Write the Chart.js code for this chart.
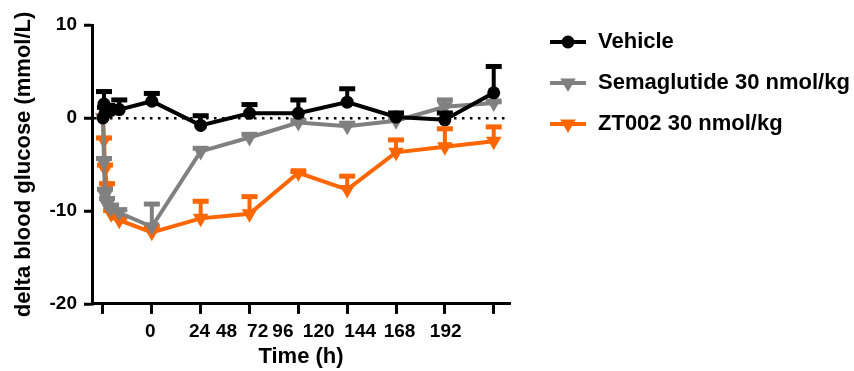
<!DOCTYPE html>
<html>
<head>
<meta charset="utf-8">
<script src="https://cdn.jsdelivr.net/npm/chart.js@4/dist/chart.umd.min.js"></script>
<style>
  html, body { margin: 0; padding: 0; background: #fff; }
  #wrap { width: 854px; height: 371px; }
</style>
</head>
<body>
<div id="wrap"><canvas id="glucoseChart"></canvas></div>
<script>
// sampling times (h)
const timeHours = [0, 0.5, 1, 2, 4, 8, 24, 48, 72, 96, 120, 144, 168, 192];

// delta blood glucose, mean and SEM (mmol/L)
const vehicleMean = [0, 1.5, 0.5, 1.0, 0.8, 0.9, 1.8, -0.8, 0.5, 0.5, 1.7, 0.1, -0.2, 2.7];
const vehicleSem  = [0, 1.5, 0.8, 0.5, 0.6, 1.2, 1.0, 1.2, 1.1, 1.6, 1.6, 0.6, 0.9, 3.0];
const semaMean    = [0, -4.8, -8.3, -9.3, -9.8, -10.2, -11.7, -3.6, -2.1, -0.5, -0.9, -0.3, 1.2, 1.6];
const semaSem     = [0, 0.6, 0.8, 0.8, 0.6, 0.5, 2.6, 0.5, 0.5, 0.4, 0.5, 0.4, 0.9, 0.3];
const ztMean      = [0, -2.4, -5.5, -7.5, -10.3, -11.0, -12.3, -10.8, -10.3, -5.9, -7.7, -3.7, -3.1, -2.5];
const ztSem       = [0, 0.4, 0.6, 0.6, 0.5, 0.4, 0.8, 2.0, 2.0, 0.3, 1.6, 1.5, 2.1, 1.7];

// axis ticks
const xTickMarks = [0, 24, 48, 72, 96, 120, 144, 168, 192];
const xTickLabels = ['0', '24', '48', '72', '96', '120', '144', '168', '192'];
const xLabelAt = [23.2, 47.4, 60.7, 76, 88.4, 106, 126.4, 145.7, 168.4];
const yTicks = [-20, -10, 0, 10];

const FONT = "'Liberation Sans', Arial, sans-serif";
Chart.defaults.font.family = FONT;
Chart.defaults.font.weight = 'bold';
Chart.defaults.color = '#000';

const series = [
    { label: 'Vehicle', mean: vehicleMean, sem: vehicleSem, color: '#000000', style: 'circle', r: 6.5, rot: 0 },
    { label: 'Semaglutide 30 nmol/kg', mean: semaMean, sem: semaSem, color: '#808080', style: 'triangle', r: 9, rot: 180 },
    { label: 'ZT002 30 nmol/kg', mean: ztMean, sem: ztSem, color: '#ff6600', style: 'triangle', r: 9, rot: 180 }
];

// legend icon: short line with the marker on it
function legendIcon(s) {
    const c = document.createElement('canvas');
    c.width = 58; c.height = 22;
    const g = c.getContext('2d');
    g.strokeStyle = s.color;
    g.fillStyle = s.color;
    g.lineWidth = 4;
    g.beginPath();
    g.moveTo(21, 11); g.lineTo(57, 11);
    g.stroke();
    g.beginPath();
    if (s.style === 'circle') {
        g.arc(39, 11, s.r, 0, Math.PI * 2);
    } else {
        const h = s.r;
        g.moveTo(39 - h * 0.866, 11 - h * 0.5);
        g.lineTo(39 + h * 0.866, 11 - h * 0.5);
        g.lineTo(39, 11 + h);
        g.closePath();
    }
    g.fill();
    return c;
}

// upward SEM bars, drawn under each dataset
const errorBars = {
    id: 'errorBars',
    beforeDatasetDraw(chart, args) {
        const ds = chart.data.datasets[args.index];
        const y = chart.scales.y;
        const ctx = chart.ctx;
        ctx.save();
        ctx.strokeStyle = ds.borderColor;
        ctx.fillStyle = ds.borderColor;
        ctx.lineWidth = 4;
        args.meta.data.forEach((pt, i) => {
            const err = ds.errors[i];
            if (!err) return;
            const top = y.getPixelForValue(ds.data[i].y + err);
            ctx.beginPath();
            ctx.moveTo(pt.x, pt.y);
            ctx.lineTo(pt.x, top);
            ctx.stroke();
            ctx.fillRect(pt.x - 8, top - 1, 16, 5);
        });
        ctx.restore();
    }
};

// lift the legend a little above the plot top
const legendLift = {
    id: 'legendLift',
    afterLayout(chart) {
        const lg = chart.legend;
        if (!lg) return;
        lg.top -= 13;
        lg.bottom -= 13;
    }
};

const datasets = series.map(s => ({
    label: s.label,
    data: timeHours.map((t, i) => ({ x: t, y: s.mean[i] })),
    errors: s.sem,
    borderColor: s.color,
    backgroundColor: s.color,
    borderWidth: 4,
    pointStyle: s.style,
    pointRadius: s.r,
    pointRotation: s.rot,
    pointBorderWidth: 0,
    pointHoverRadius: s.r,
    tension: 0,
    icon: legendIcon(s)
}));

new Chart(document.getElementById('glucoseChart'), {
    type: 'line',
    data: { datasets: datasets },
    options: {
        responsive: true,
        maintainAspectRatio: false,
        animation: false,
        layout: { padding: { top: 25, left: 0, right: 0, bottom: 1 } },
        plugins: {
            tooltip: { enabled: false },
            legend: {
                position: 'right',
                align: 'start',
                maxWidth: 344,
                labels: {
                    usePointStyle: true,
                    pointStyleWidth: 58,
                    padding: 19,
                    font: { size: 22, weight: 'bold' },
                    generateLabels: chart => chart.data.datasets.map((ds, i) => ({
                        text: ds.label,
                        pointStyle: ds.icon,
                        fillStyle: ds.borderColor,
                        strokeStyle: ds.borderColor,
                        lineWidth: 0,
                        fontColor: '#000',
                        hidden: false,
                        datasetIndex: i
                    }))
                }
            }
        },
        scales: {
            x: {
                type: 'linear',
                position: 'bottom',
                min: -5.4,
                max: 200,
                afterBuildTicks: axis => { axis.ticks = xTickMarks.map(v => ({ value: v })); },
                ticks: { display: false },
                grid: { drawOnChartArea: false, tickLength: 10, tickWidth: 3, tickColor: '#000' },
                border: { color: '#000', width: 3 }
            },
            x2: {
                type: 'linear',
                position: 'bottom',
                min: -5.4,
                max: 200,
                afterBuildTicks: axis => { axis.ticks = xLabelAt.map(v => ({ value: v })); },
                ticks: {
                    autoSkip: false,
                    maxRotation: 0,
                    padding: 6,
                    font: { size: 19, weight: 'bold' },
                    callback: (v, i) => xTickLabels[i]
                },
                grid: { display: false, drawTicks: false },
                border: { display: false },
                title: {
                    display: true,
                    text: 'Time (h)',
                    font: { size: 22, weight: 'bold', lineHeight: 0.56 },
                    padding: { top: 2, bottom: 7 }
                }
            },
            y: {
                min: -20,
                max: 10,
                afterBuildTicks: axis => { axis.ticks = yTicks.map(v => ({ value: v })); },
                afterFit: axis => { axis.width = 92; },
                ticks: { font: { size: 19, weight: 'bold' }, padding: 7 },
                grid: {
                    color: c => (c.tick && c.tick.value === 0) ? '#000' : 'rgba(0,0,0,0)',
                    lineWidth: 2.5,
                    tickLength: 8,
                    tickWidth: 3,
                    tickColor: '#000'
                },
                border: { color: '#000', width: 3, dash: [2.5, 5.5] },
                title: {
                    display: true,
                    text: 'delta blood glucose (mmol/L)',
                    font: { size: 22, weight: 'bold' },
                    padding: { top: 11, bottom: 0 }
                }
            }
        }
    },
    plugins: [errorBars, legendLift]
});
</script>
</body>
</html>
